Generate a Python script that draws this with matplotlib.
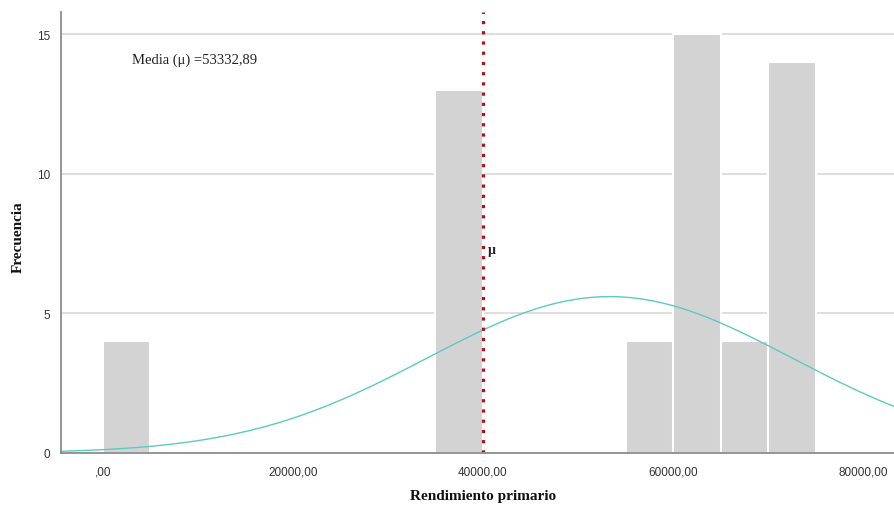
import matplotlib
matplotlib.use("Agg")
import matplotlib.pyplot as plt
import numpy as np

# Histogram data (bin left edges, counts)
bin_edges = [0, 5000, 10000, 15000, 20000, 25000, 30000, 35000, 40000, 45000,
             50000, 55000, 60000, 65000, 70000, 75000]
counts = [4, 0, 0, 0, 0, 0, 0, 13, 0, 0, 0, 4, 15, 4, 14]
mean_val = 53332.89
std_val = 19230.0
n_total = 54
bin_width = 5000
ref_line_x = 40000
xticks = [0, 20000, 40000, 60000, 80000]
xtick_labels = [",00", "20000,00", "40000,00", "60000,00", "80000,00"]
yticks = [0, 5, 10, 15]

fig = plt.figure(figsize=(8.94, 5.06), dpi=100)
ax = fig.add_axes([0.0682, 0.1028, 0.9318, 0.8712])

ax.set_xlim(-4420, 83260)
ax.set_ylim(0, 15.79)

for y in [5, 10, 15]:
    ax.axhline(y, color="#dcdcdc", lw=1.3, zorder=0)

ax.bar(bin_edges[:-1], counts, width=bin_width, align="edge",
       color="#d3d3d3", edgecolor="white", linewidth=1.5, zorder=2)

xs = np.linspace(-4420, 83260, 600)
ys = n_total * bin_width / (std_val * np.sqrt(2 * np.pi)) * np.exp(-0.5 * ((xs - mean_val) / std_val) ** 2)
ax.plot(xs, ys, color="#5ccbbf", lw=1.0, zorder=3)

ax.plot([ref_line_x, ref_line_x], [0, 15.79], color="#b0101a", lw=2.3,
        linestyle=(0, (1, 2.2)), zorder=4, solid_capstyle="butt", dash_capstyle="butt")
ax.text(ref_line_x + 500, 7.3, "μ", fontsize=10, fontweight="bold",
        family="Liberation Serif", ha="left", va="center", color="#222222")

ax.text(3100, 14.1, "Media (μ) =53332,89", fontsize=10.5, family="Liberation Serif",
        ha="left", va="center", color="#222222")

ax.set_xticks(xticks)
ax.set_xticklabels(xtick_labels, family="Liberation Sans", fontsize=8.5, color="#333333")
ax.set_yticks(yticks)
ax.set_yticklabels([str(v) for v in yticks], family="Liberation Sans", fontsize=8.5, color="#333333")
ax.tick_params(length=0, pad=8)
ax.tick_params(axis="x", pad=9)

for s in ["top", "right"]:
    ax.spines[s].set_visible(False)
for s in ["left", "bottom"]:
    ax.spines[s].set_color("#8c8c8c")
    ax.spines[s].set_linewidth(1.3)
ax.spines["left"].set_zorder(5)
ax.spines["bottom"].set_zorder(5)

fig.text(483 / 894, 1 - 497 / 506, "Rendimiento primario", family="Liberation Serif",
         fontweight="bold", fontsize=11, color="#111111", ha="center", va="center")
fig.text(18 / 894, 1 - 237 / 506, "Frecuencia", family="Liberation Serif",
         fontweight="bold", fontsize=11, color="#111111", ha="center", va="center",
         rotation=90)

fig.savefig("out.png", dpi=100)
